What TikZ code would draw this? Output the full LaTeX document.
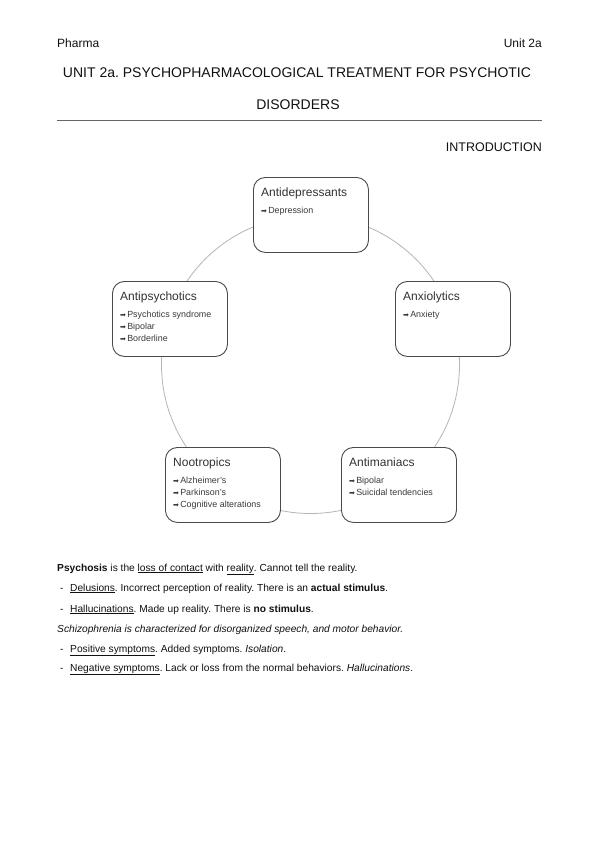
\documentclass[tikz,border=0pt]{standalone}
\usepackage{fontspec}
\setmainfont{Liberation Sans}
\newfontfamily\dvfont{DejaVu Sans}
\frenchspacing
\definecolor{boxc}{HTML}{4A4A4A}
\definecolor{ringc}{HTML}{B5B5B5}
\definecolor{ttlc}{HTML}{333333}
\definecolor{itmc}{HTML}{3A3A3A}
\definecolor{bodyc}{HTML}{111111}
\newcommand\arrmark{{\dvfont\fontsize{7}{7}\selectfont ➡}\hspace{1.2pt}}
\tikzset{
  x=1pt, y=-1pt,
  boxnode/.style={draw=boxc, line width=0.9pt, rounded corners=12pt, fill=white,
    minimum width=115pt, minimum height=75pt, anchor=north west, inner sep=0pt},
  boxtitle/.style={anchor=base west, inner sep=0pt, text=ttlc, font=\fontsize{12}{13}\selectfont},
  boxitem/.style={anchor=base west, inner sep=0pt, text=itmc, font=\fontsize{8.9}{10}\selectfont},
  body/.style={anchor=base west, inner sep=0pt, text=bodyc, font=\fontsize{10.2}{12}\selectfont},
  dashmark/.style={anchor=base west, inner sep=0pt, text=bodyc, font=\fontsize{10.2}{12}\selectfont},
  head/.style={inner sep=0pt, text=bodyc, font=\fontsize{12}{14}\selectfont},
  titletext/.style={inner sep=0pt, text=bodyc, font=\fontsize{14}{16}\selectfont},
}
\newcommand\mkbox[5]{%
  \node[boxnode] (#1) at (#2,#3) {};
  \node[boxtitle] (#1-t) at ([shift={(8,19)}]#1.north west) {#4};
  \foreach \itm [count=\k] in {#5} {
    \node[boxitem] (#1-\k) at ([shift={(8,{36.5+12*(\k-1)})}]#1.north west) {\arrmark\itm};
  }%
}
\begin{document}
\begin{tikzpicture}
\useasboundingbox[fill=white] (0,0) rectangle (599,848);
% header
\node[head, anchor=base west] (pharma) at (57,48) {Pharma};
\node[head, anchor=base east] (unit) at (542,48) {Unit 2a};
\node[titletext, anchor=base] (title1) at (297,78) {UNIT 2a. PSYCHOPHARMACOLOGICAL TREATMENT FOR PSYCHOTIC};
\node[titletext, anchor=base] (title2) at (298,110) {DISORDERS};
\coordinate (ruleL) at (57,120);
\coordinate (ruleR) at (542,120);
\draw[line width=0.7pt, color=gray!80!black] (ruleL) -- (ruleR);
\node[head, anchor=base east, font=\fontsize{12.5}{14}\selectfont] (intro) at (542,151) {INTRODUCTION};
% ring
\node[draw=ringc, line width=0.8pt, circle, minimum size=298pt, inner sep=0pt] (ring) at (310.5,364.5) {};
% boxes
\mkbox{ad}{253}{177}{Antidepressants}{Depression}
\mkbox{ap}{112}{281}{Antipsychotics}{Psychotics syndrome,Bipolar,Borderline}
\mkbox{ax}{395}{281}{Anxiolytics}{Anxiety}
\mkbox{no}{165}{447}{Nootropics}{Alzheimer's,Parkinson's,Cognitive alterations}
\mkbox{am}{341}{447}{Antimaniacs}{Bipolar,Suicidal tendencies}
% body text
\node[body] (l1) at (57,571) {\textbf{Psychosis} is the \underline{loss of contact} with \underline{reality}. Cannot tell the reality.};
\node[dashmark] (d1) at (60,591) {-};
\node[body] (l2) at (70,591) {\underline{Delusions}. Incorrect perception of reality. There is an \textbf{actual stimulus}.};
\node[dashmark] (d2) at (60,612) {-};
\node[body] (l3) at (70,612) {\underline{Hallucinations}. Made up reality. There is \textbf{no stimulus}.};
\node[body] (l4) at (57,632) {\itshape Schizophrenia is characterized for disorganized speech, and motor behavior.};
\node[dashmark] (d3) at (60,652) {-};
\node[body] (l5) at (70,652) {\underline{Positive symptoms}. Added symptoms. \textit{Isolation}.};
\node[dashmark] (d4) at (60,671) {-};
\node[body] (l6) at (70,671) {\underline{Negative symptoms}. Lack or loss from the normal behaviors. \textit{Hallucinations}.};
\end{tikzpicture}
\end{document}
